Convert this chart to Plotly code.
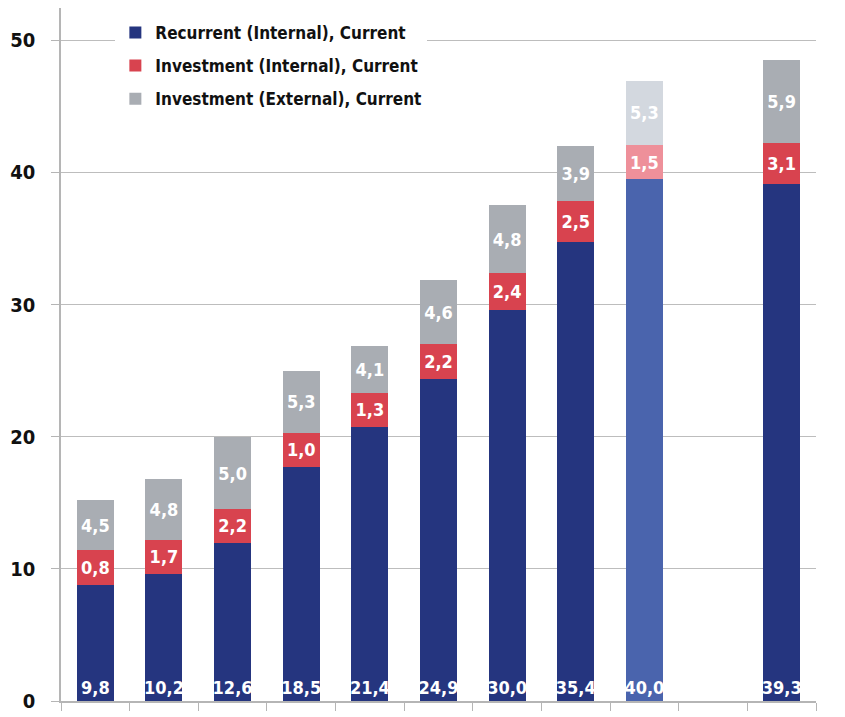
import plotly.graph_objects as go

categories = ["1", "2", "3", "4", "5", "6", "7", "8", "9", "10", "11"]
# segment heights as drawn in the picture
recurrent_internal = [8.8, 9.6, 11.95, 17.7, 20.75, 24.4, 29.6, 34.7, 39.5, None, 39.15]
investment_internal = [2.6, 2.6, 2.6, 2.6, 2.55, 2.6, 2.75, 3.1, 2.55, None, 3.1]
investment_external = [3.8, 4.6, 5.4, 4.7, 3.6, 4.85, 5.15, 4.2, 4.9, None, 6.25]
# value labels printed on the segments
recurrent_labels = ["9,8", "10,2", "12,6", "18,5", "21,4", "24,9", "30,0", "35,4", "40,0", "", "39,3"]
inv_internal_labels = ["0,8", "1,7", "2,2", "1,0", "1,3", "2,2", "2,4", "2,5", "1,5", "", "3,1"]
inv_external_labels = ["4,5", "4,8", "5,0", "5,3", "4,1", "4,6", "4,8", "3,9", "5,3", "", "5,9"]
y_ticks = [0, 10, 20, 30, 40, 50]

base_cols = ["#25357f", "#d8434f", "#a9adb3"]
light_cols = ["#4a64ad", "#ee909a", "#d3d8df"]
light_idx = 8

def colors(i):
    return [light_cols[i] if k == light_idx else base_cols[i] for k in range(len(categories))]

font_fam = "DejaVu Sans Condensed, DejaVu Sans, sans-serif"
series = [
    ("Recurrent (Internal), Current", recurrent_internal, recurrent_labels, "start"),
    ("Investment (Internal), Current", investment_internal, inv_internal_labels, "middle"),
    ("Investment (External), Current", investment_external, inv_external_labels, "middle"),
]

fig = go.Figure()
for i, (name, vals, labels, anchor) in enumerate(series):
    fig.add_trace(go.Bar(
        x=categories, y=vals, name=name, legendgroup=f"g{i}",
        marker=dict(color=colors(i), line=dict(width=0)),
        text=labels, textposition="inside",
        insidetextanchor=anchor, textangle=0,
        textfont=dict(color="white", size=18, family=font_fam, weight="bold"),
        constraintext="none", hoverinfo="skip",
    ))

fig.update_layout(
    barmode="stack", bargap=0.46,
    width=845, height=717,
    margin=dict(l=53, r=37, t=0, b=24),
    plot_bgcolor="white", paper_bgcolor="white",
    uniformtext=dict(mode=False),
    legend=dict(
        x=0.072, y=0.99, xanchor="left", yanchor="top",
        bgcolor="white", font=dict(size=17, family=font_fam, color="#111", weight="bold"),
        traceorder="grouped", itemwidth=30, tracegroupgap=8,
    ),
    font=dict(family=font_fam),
)
fig.update_yaxes(
    range=[0, 52.44], tickvals=y_ticks, showgrid=True, gridcolor="#bdbdbd", gridwidth=1.2,
    showline=True, linecolor="#b5b5b5", linewidth=1.5, ticks="outside", ticklen=8,
    tickcolor="#b5b5b5", tickfont=dict(size=20, color="#111", family=font_fam, weight="bold"),
    zeroline=False, ticklabelstandoff=12,
)
fig.update_xaxes(
    showticklabels=False, showline=True, linecolor="#b5b5b5", linewidth=1.5,
    ticks="outside", tickson="boundaries", ticklen=8, tickcolor="#b5b5b5",
)
fig.write_html("out.html")
